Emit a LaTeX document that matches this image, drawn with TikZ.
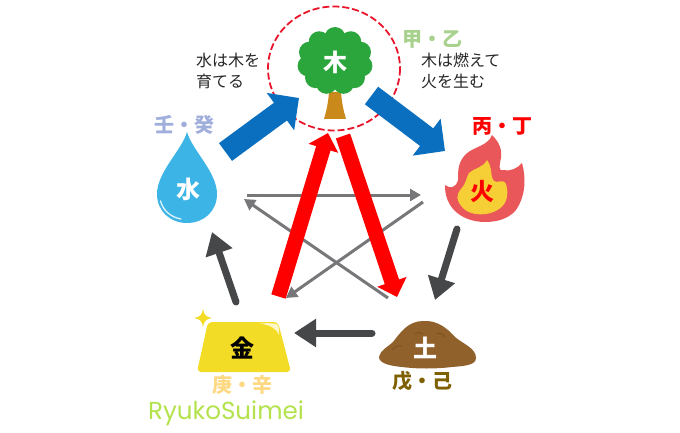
\documentclass[tikz,border=0pt]{standalone}
\usepackage{fontspec}
\setmainfont{Noto Sans CJK JP}
\newfontfamily\latinrnd{Poppins}
\usetikzlibrary{arrows.meta}
\definecolor{treegreen}{HTML}{2BA63C}
\definecolor{trunkcol}{HTML}{C98A1B}
\definecolor{dropblue}{HTML}{3DB4E6}
\definecolor{firered}{HTML}{E9575A}
\definecolor{fireyel}{HTML}{F6CE35}
\definecolor{goldcol}{HTML}{F3DC26}
\definecolor{earthcol}{HTML}{91612C}
\definecolor{earthdark}{HTML}{7A4E1E}
\definecolor{bluearr}{HTML}{0B6FBF}
\definecolor{darkarr}{HTML}{464749}
\definecolor{grayarr}{HTML}{77777A}
\definecolor{ringred}{HTML}{E8152B}
\definecolor{stemgreen}{HTML}{A9D18E}
\definecolor{stemgold}{HTML}{FFD883}
\definecolor{stembrown}{HTML}{7F6000}
\definecolor{stemblue}{HTML}{A0AEDB}
\definecolor{logogreen}{HTML}{B4E24C}
\tikzset{
  cyclearr/.style={draw=bluearr,line width=22pt,-{Triangle[length=23pt,width=45pt]}},
  redarr/.style={draw=red,line width=15pt,-{Triangle[length=16pt,width=30pt]}},
  darkarrow/.style={draw=darkarr,line width=7pt,line cap=round,-{Triangle[length=22pt,width=27pt]}},
  grayarrow/.style={draw=grayarr,line width=3pt,-{Triangle[length=11pt,width=12pt]}},
  elem/.style={font=\bfseries\fontsize{24}{24}\selectfont,inner sep=0pt},
  stem/.style={font=\bfseries\fontsize{20}{20}\selectfont,inner sep=0pt},
  note/.style={font=\fontsize{16}{21.5}\selectfont,text=black!85,align=left,inner sep=0pt,anchor=north west},
}
\begin{document}
\begin{tikzpicture}[x=1pt,y=-1pt]
\useasboundingbox (0,0) rectangle (680,433);
% free ends of the arrows
\coordinate (wa) at (225.5,152); \coordinate (wb) at (299,98);
\coordinate (fa) at (371.5,95.5); \coordinate (fb) at (445,151);
\coordinate (ra) at (278.5,296.5); \coordinate (rb) at (328,133);
\coordinate (sa) at (343,136); \coordinate (sb) at (397,297);
\coordinate (g1a) at (247,195); \coordinate (g1b) at (421,195);
\coordinate (g2a) at (388,298); \coordinate (g2b) at (244,199);
\coordinate (g3a) at (423,202); \coordinate (g3b) at (286,298);
\coordinate (d1a) at (236,302); \coordinate (d1b) at (212,232);
\coordinate (d2a) at (457,229); \coordinate (d2b) at (435,300);
\coordinate (d3a) at (372,333); \coordinate (d3b) at (294,333);
% dashed ring
\draw[ringred,line width=1.8pt,dash pattern=on 7pt off 3pt] (334,68.5) ellipse [x radius=66,y radius=62];
% tree
\fill[trunkcol] (329,92) -- (341,92) .. controls (342,105) and (344,112) .. (346,119) -- (324,119) .. controls (326,112) and (328,105) .. (329,92) -- cycle;
\fill[treegreen] (335,61) ellipse [x radius=31,y radius=28];
\foreach \a in {90,55,22,-12,-45,-72,-108,-135,-168,158,125}
  \fill[treegreen] ({335+27.5*cos(\a)},{61-23.5*sin(\a)}) circle [radius=10.5];
\node[elem,text=white] (ki) at (335,62) {木};
% water
\fill[dropblue] (187,132) .. controls (182,150) and (157,172) .. (157,194)
  .. controls (157,211) and (170,223) .. (187,223)
  .. controls (204,223) and (217,211) .. (217,194)
  .. controls (217,172) and (192,150) .. (187,132) -- cycle;
\draw[white!85!dropblue,line width=1.3pt,line cap=round] (160.5,201) .. controls (163,210) and (170,217) .. (181,219);
\node[elem,text=white] (mizu) at (188,189) {水};
% fire
\fill[firered] (492,135) .. controls (500,143) and (502,150) .. (501,158)
  .. controls (499,166) and (499,172) .. (503,170)
  .. controls (510,172) and (518,168) .. (522,163)
  .. controls (526,178) and (526,195) .. (516,210)
  .. controls (506,222) and (490,222) .. (483,222)
  .. controls (465,221) and (450,212) .. (446,195)
  .. controls (445,191) and (445,187) .. (445,185)
  .. controls (450,189) and (456,188) .. (458,180)
  .. controls (458,170) and (458,162) .. (466,154)
  .. controls (475,146) and (488,146) .. (492,135) -- cycle;
\fill[fireyel] (487,160) .. controls (493,168) and (490,178) .. (494,181)
  .. controls (497,184) and (503,178) .. (506,184)
  .. controls (509,194) and (507,204) .. (499,209)
  .. controls (490,216) and (470,217) .. (462,207)
  .. controls (456,200) and (456,195) .. (461,189)
  .. controls (466,184) and (466,178) .. (469,173)
  .. controls (474,168) and (483,168) .. (487,160) -- cycle;
\node[elem,text=red] (hi) at (482,192) {火};
% gold
\fill[goldcol,rounded corners=4pt] (208,322) -- (278,322) -- (291,372) -- (197,372) -- cycle;
\fill[white!75!goldcol] (260,323.5) .. controls (268,323) and (276,323) .. (278,325) .. controls (279,327) and (279,331) .. (279,335) .. controls (276,328) and (270,325) .. (260,323.5) -- cycle;
\fill[goldcol] (203,309) .. controls (204,315) and (206,317) .. (212,318) .. controls (206,319) and (204,321) .. (203,327) .. controls (202,321) and (200,319) .. (194,318) .. controls (200,317) and (202,315) .. (203,309) -- cycle;
\node[elem,text=black] (kin) at (242,348) {金};
% earth
\fill[earthcol] (379,357) .. controls (380,350) and (388,347) .. (393,342)
  .. controls (400,333) and (408,321) .. (423,321)
  .. controls (437,320) and (447,328) .. (455,337)
  .. controls (463,344) and (476,348) .. (476,358)
  .. controls (476,365) and (465,366) .. (452,367)
  .. controls (435,369) and (418,369) .. (402,367)
  .. controls (392,366) and (379,364) .. (379,357) -- cycle;
\draw[earthdark,line width=.8pt] (392,350) .. controls (395,346) and (399,345) .. (402,346);
\draw[earthdark,line width=.8pt] (415,334) .. controls (418,332) and (421,332) .. (423,334);
\draw[earthdark,line width=.8pt] (437,333) .. controls (440,333) and (443,334) .. (445,337);
\node[elem,text=white] (tsuchi) at (425,348) {土};
% cross arrows
\draw[grayarrow] (g1a) -- (g1b);
\draw[grayarrow] (g2a) -- (g2b);
\draw[grayarrow] (g3a) -- (g3b);
% main arrows
\draw[redarr] (ra) -- (rb);
\draw[redarr] (sa) -- (sb);
\draw[cyclearr] (wa) -- (wb);
\draw[cyclearr] (fa) -- (fb);
\draw[darkarrow] (d1a) -- (d1b);
\draw[darkarrow] (d2a) -- (d2b);
\draw[darkarrow] (d3a) -- (d3b);
% labels
\node[stem,text=stemgreen] (s1) at (432,39) {甲・乙};
\node[stem,text=red] (s2) at (502,126) {丙・丁};
\node[stem,text=stemgold] (s3) at (242,385) {庚・辛};
\node[stem,text=stembrown] (s4) at (422,381) {戊・己};
\node[stem,text=stemblue] (s5) at (184,125) {壬・癸};
\node[note] (n1) at (196,52.5) {水は木を\\育てる};
\node[note] (n2) at (421,52.5) {木は燃えて\\火を生む};
\node[font=\latinrnd\fontsize{24.6}{24.6}\selectfont,text=logogreen,inner sep=0pt] (logo) at (226,413) {RyukoSuimei};
\end{tikzpicture}
\end{document}
